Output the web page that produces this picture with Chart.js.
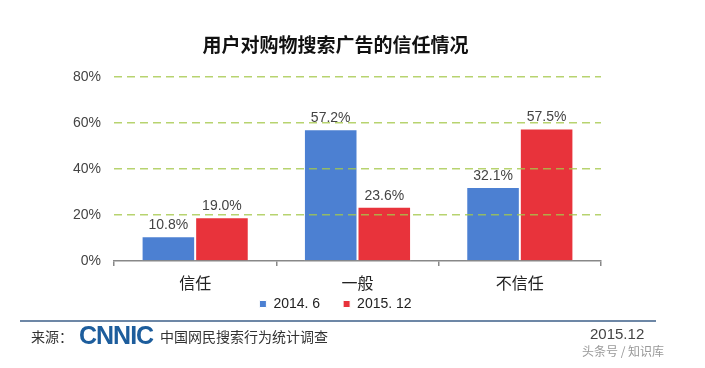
<!DOCTYPE html>
<html>
<head>
<meta charset="utf-8">
<script src="https://cdn.jsdelivr.net/npm/chart.js@4/dist/chart.umd.min.js"></script>
<style>
  html, body { margin: 0; padding: 0; background: #fff; }
  #wrap { position: relative; width: 705px; height: 368px; overflow: hidden; font-family: "Noto Sans CJK SC", "Noto Sans", sans-serif; }
  #myChart { position: absolute; left: 0; top: 0; }
  .foot { position: absolute; white-space: nowrap; }
</style>
</head>
<body>
<div id="wrap">
  <canvas id="myChart" width="705" height="368"></canvas>
  <div class="foot" style="left:20px;top:320px;width:636px;height:2px;background:#6d87a6;"></div>
  <div class="foot" style="left:31px;top:326px;font-size:14px;color:#333;">来源：</div>
  <div class="foot" style="left:79px;top:321px;font-size:25px;font-weight:bold;color:#1d5d9c;font-family:'Liberation Sans',Arial,sans-serif;letter-spacing:-1px;">CNNIC</div>
  <div class="foot" style="left:160px;top:326px;font-size:14px;color:#333;">中国网民搜索行为统计调查</div>
  <div class="foot" style="left:590px;top:325px;font-size:15px;color:#444;font-family:'Liberation Sans',Arial,sans-serif;">2015.12</div>
  <div class="foot" style="left:582px;top:342px;font-size:12px;color:#999;">头条号 / 知识库</div>
</div>
<script>
// 用户对购物搜索广告的信任情况
const categories = ["信任", "一般", "不信任"];
const seriesNames = ["2014. 6", "2015. 12"];
const values2014 = [10.8, 57.2, 32.1];
const values2015 = [19.0, 23.6, 57.5];
const yTicks = [0, 20, 40, 60, 80];

const barLabels = {
    id: "barLabels",
    afterDatasetsDraw(chart) {
        const ctx = chart.ctx;
        ctx.save();
        ctx.font = "14px 'Liberation Sans', Arial, sans-serif";
        ctx.fillStyle = "#444";
        ctx.textAlign = "center";
        ctx.textBaseline = "bottom";
        chart.data.datasets.forEach((ds, i) => {
            chart.getDatasetMeta(i).data.forEach((bar, j) => {
                ctx.fillText(ds.data[j].toFixed(1) + "%", bar.x, bar.y - 4);
            });
        });
        ctx.restore();
    }
};

new Chart(document.getElementById("myChart").getContext("2d"), {
    type: "bar",
    data: {
        labels: categories,
        datasets: [
            { label: seriesNames[0], data: values2014, backgroundColor: "#4c80d2", borderColor: "#fff", borderWidth: 1, borderSkipped: "bottom" },
            { label: seriesNames[1], data: values2015, backgroundColor: "#e8333b", borderColor: "#fff", borderWidth: 1, borderSkipped: "bottom" },
        ],
    },
    options: {
        responsive: false,
        animation: false,
        layout: { padding: { left: 51, right: 85, top: 20, bottom: 47 } },
        datasets: { bar: { categoryPercentage: 0.66, barPercentage: 1.0 } },
        plugins: {
            title: {
                display: true,
                text: "用户对购物搜索广告的信任情况",
                font: { size: 19, weight: "bold", family: "'Noto Sans CJK SC', sans-serif" },
                color: "#111",
                padding: { top: 13, bottom: 21 },
            },
            legend: {
                position: "bottom",
                labels: {
                    boxWidth: 7, boxHeight: 7, padding: 2,
                    color: "#222",
                    font: { size: 14, family: "'Liberation Sans', Arial, sans-serif" },
                    // wider gap between the two entries without adding vertical space
                    generateLabels: (chart) => Chart.defaults.plugins.legend.labels.generateLabels(chart)
                        .map((item, i) => i === 0 ? { ...item, text: item.text + "\u2003\u2002" } : item),
                },
            },
            tooltip: { enabled: false },
        },
        scales: {
            y: {
                min: 0, max: 80,
                afterBuildTicks: (axis) => { axis.ticks = yTicks.map(v => ({ value: v })); },
                afterFit: (axis) => { axis.width = 63; },
                border: { display: false, dash: [8, 5] },
                grid: {
                    z: 1,
                    drawTicks: false,
                    lineWidth: 1.5,
                    color: (c) => c.tick && c.tick.value === 0 ? "rgba(0,0,0,0)" : "rgba(165,200,75,0.8)",
                },
                ticks: {
                    padding: 13,
                    color: "#444",
                    font: { size: 14, family: "'Liberation Sans', Arial, sans-serif" },
                    callback: (v) => v + "%",
                },
            },
            // empty right axis, only reserves room so the title sits where it does in the picture
            yRight: {
                position: "right",
                afterFit: (axis) => { axis.width = 19; },
                border: { display: false },
                grid: { display: false },
                ticks: { display: false },
            },
            x: {
                afterFit: (axis) => { axis.height = 34; },
                border: { display: true, color: "#888", width: 1.5 },
                grid: { offset: true, drawOnChartArea: false, drawTicks: true, tickLength: 5, color: "#888", lineWidth: 1.5 },
                ticks: {
                    padding: 7,
                    color: "#222",
                    font: { size: 16, family: "'Noto Sans CJK SC', sans-serif" },
                },
            },
        },
    },
    plugins: [barLabels],
});
</script>
</body>
</html>
